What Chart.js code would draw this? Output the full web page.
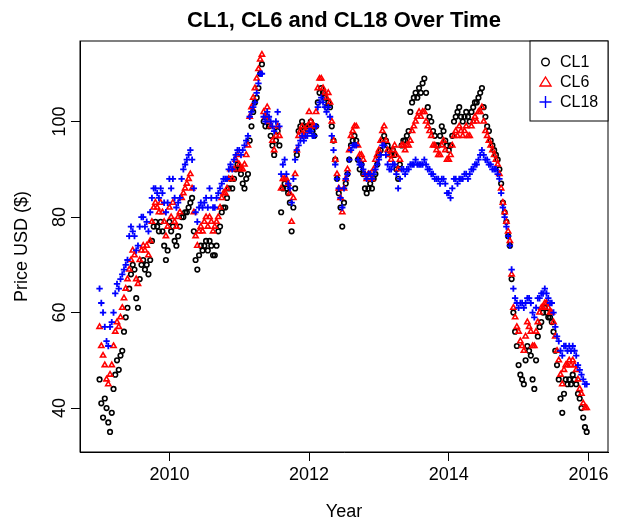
<!DOCTYPE html>
<html>
<head>
<meta charset="utf-8">
<title>CL1, CL6 and CL18 Over Time</title>
<script src="https://cdn.jsdelivr.net/npm/chart.js@4.4.1/dist/chart.umd.min.js"></script>
<style>
  html, body { margin: 0; padding: 0; background: #fff; }
  #wrap { width: 632px; height: 526px; }
</style>
</head>
<body>
<div id="wrap"><canvas id="chart" width="632" height="526"></canvas></div>
<script>
// Samples every 0.025 yr (about 9 days), starting at the first trading days of 2009
const firstYear = 2009;
const stepYears = 0.025;

// Front month contract (one row per year, 40 samples each)
const cl1 = [
  46, 41, 38, 42, 40, 37, 35, 39, 44, 47, 50, 48, 51, 52, 56, 59, 61, 65, 68, 70, 69, 63, 61, 67, 70, 71, 69, 70, 68, 71, 75, 78, 79, 78, 77, 79, 77, 74, 71, 73,
  79, 77, 78, 75, 74, 76, 78, 80, 80, 81, 81, 82, 83, 84, 77, 71, 69, 72, 74, 73, 74, 75, 73, 75, 74, 72, 72, 74, 77, 78, 81, 82, 82, 84, 86, 88, 86, 88, 90, 91,
  90, 89, 87, 86, 88, 89, 96, 99, 102, 104, 105, 107, 110, 112, 100, 99, 101, 99, 97, 95, 93, 96, 98, 95, 81, 86, 87, 86, 85, 83, 77, 82, 86, 93, 98, 99, 100, 98, 99, 99,
  99, 100, 98, 97, 99, 104, 106, 107, 106, 105, 103, 104, 103, 99, 96, 92, 88, 85, 82, 78, 83, 87, 89, 92, 95, 96, 97, 96, 92, 90, 91, 89, 86, 85, 86, 87, 86, 88, 89, 91,
  93, 94, 96, 97, 96, 95, 94, 93, 94, 93, 90, 88, 91, 95, 96, 96, 97, 98, 102, 104, 105, 106, 105, 107, 106, 108, 109, 106, 103, 101, 100, 98, 97, 95, 95, 97, 99, 98, 96, 95,
  94, 95, 97, 100, 101, 102, 103, 101, 100, 101, 102, 101, 100, 102, 103, 104, 104, 105, 106, 107, 103, 101, 99, 98, 96, 95, 94, 93, 92, 90, 87, 83, 81, 79, 76, 74, 67, 60, 56, 53,
  49, 47, 46, 45, 50, 53, 52, 51, 46, 44, 50, 55, 57, 58, 60, 61, 60, 59, 59, 58, 56, 52, 49, 46, 42, 39, 43, 46, 45, 46, 45, 47, 46, 45, 43, 42, 40, 38, 36, 35
];

// Sixth month contract
const cl6 = [
  57, 53, 51, 49, 46, 45, 47, 49, 53, 56, 58, 57, 59, 61, 63, 65, 67, 69, 71, 73, 72, 67, 66, 71, 73, 74, 73, 74, 72, 75, 79, 82, 83, 82, 81, 83, 81, 79, 76, 78,
  82, 80, 83, 79, 78, 80, 81, 84, 85, 86, 87, 88, 89, 86, 81, 76, 74, 77, 78, 77, 79, 80, 78, 80, 79, 77, 78, 79, 80, 82, 84, 85, 85, 86, 88, 90, 88, 90, 92, 93,
  91, 90, 90, 91, 93, 95, 101, 103, 105, 107, 109, 111, 113, 114, 102, 101, 103, 100, 99, 96, 94, 97, 99, 97, 86, 88, 88, 88, 87, 85, 79, 84, 89, 94, 97, 98, 99, 97, 98, 99,
  102, 100, 99, 99, 102, 107, 109, 109, 107, 106, 105, 106, 104, 100, 96, 92, 89, 86, 84, 81, 86, 88, 90, 94, 97, 98, 99, 99, 95, 93, 93, 92, 89, 88, 89, 89, 88, 90, 92, 93,
  94, 96, 98, 99, 96, 94, 93, 92, 94, 95, 93, 90, 92, 95, 95, 94, 95, 95, 96, 98, 99, 100, 101, 102, 101, 102, 102, 100, 99, 98, 97, 95, 95, 94, 93, 93, 95, 96, 94, 92,
  92, 93, 95, 97, 98, 97, 99, 98, 97, 98, 99, 97, 97, 99, 100, 101, 100, 102, 102, 103, 100, 98, 97, 96, 95, 94, 93, 92, 91, 89, 86, 83, 81, 79, 77, 75, 68, 61, 59, 57,
  56, 54, 53, 52, 55, 58, 57, 56, 53, 53, 56, 58, 60, 61, 61, 62, 62, 61, 60, 60, 58, 55, 52, 50, 47, 45, 48, 49, 49, 50, 49, 50, 49, 48, 46, 44, 43, 41, 40, 40
];

// Eighteenth month contract
const cl18 = [
  65, 62, 60, 57, 54, 53, 57, 58, 60, 64, 66, 65, 67, 68, 69, 70, 71, 76, 78, 77, 76, 73, 74, 78, 80, 80, 78, 79, 77, 81, 84, 86, 86, 85, 84, 86, 85, 83, 81, 83,
  88, 86, 88, 84, 82, 83, 84, 88, 90, 91, 92, 93, 94, 92, 86, 81, 79, 82, 83, 82, 83, 84, 82, 86, 84, 82, 82, 84, 85, 86, 87, 88, 88, 88, 90, 91, 90, 92, 93, 94,
  94, 93, 94, 95, 96, 97, 101, 102, 103, 104, 106, 108, 110, 110, 101, 100, 102, 101, 100, 99, 98, 100, 102, 99, 89, 91, 92, 89, 87, 86, 83, 88, 92, 94, 95, 96, 97, 96, 97, 97,
  98, 98, 97, 97, 99, 103, 104, 105, 104, 103, 102, 103, 101, 97, 94, 91, 88, 86, 84, 82, 86, 88, 89, 92, 94, 95, 95, 95, 92, 91, 91, 90, 89, 88, 89, 89, 88, 89, 90, 91,
  92, 93, 95, 95, 93, 91, 90, 90, 91, 91, 89, 86, 88, 90, 90, 89, 90, 90, 91, 91, 91, 92, 91, 91, 91, 91, 92, 91, 90, 90, 89, 89, 88, 88, 88, 87, 88, 88, 87, 85,
  85, 84, 86, 88, 88, 87, 88, 88, 88, 89, 89, 88, 89, 90, 90, 91, 91, 92, 93, 94, 93, 92, 92, 91, 91, 90, 90, 90, 89, 88, 85, 82, 80, 78, 76, 74, 69, 65, 63, 62,
  61, 62, 62, 61, 62, 63, 63, 62, 60, 59, 61, 63, 63, 64, 64, 65, 64, 63, 62, 62, 60, 57, 55, 54, 52, 51, 53, 53, 52, 53, 52, 53, 52, 51, 49, 48, 47, 46, 45, 45
];

const yearTicks = [2010, 2012, 2014, 2016];
const priceTicks = [40, 60, 80, 100];
const seriesNames = ['CL1', 'CL6', 'CL18'];

const FONT = '"Liberation Sans", Arial, Helvetica, sans-serif';

function toPoints(values) {
  return values.map((v, i) => ({ x: firstYear + i * stepYears, y: v }));
}

// R-style extras: box round the plot, vertical y labels, title and legend
const rStyle = {
  id: 'rStyle',
  afterDraw(chart) {
    const { ctx, chartArea: a, scales } = chart;
    ctx.save();
    ctx.strokeStyle = '#000';
    ctx.lineWidth = 1;
    ctx.strokeRect(a.left, a.top, a.right - a.left, a.bottom - a.top);

    ctx.fillStyle = '#000';
    ctx.font = '18px ' + FONT;
    ctx.textAlign = 'center';
    ctx.textBaseline = 'middle';
    priceTicks.forEach(v => {
      const y = scales.y.getPixelForValue(v);
      ctx.save();
      ctx.translate(60, y);
      ctx.rotate(-Math.PI / 2);
      ctx.fillText(String(v), 0, 0);
      ctx.restore();
    });

    ctx.font = 'bold 22px ' + FONT;
    ctx.fillText('CL1, CL6 and CL18 Over Time', (a.left + a.right) / 2, 21);

    // legend box in the top right corner
    const bx = 530, by = a.top, bw = a.right - 530, bh = 80;
    ctx.fillStyle = '#fff';
    ctx.fillRect(bx, by, bw, bh);
    ctx.strokeRect(bx, by, bw, bh);
    ctx.font = '16px ' + FONT;
    ctx.textAlign = 'left';
    const sx = 545.5;
    seriesNames.forEach((name, i) => {
      const y = by + 21 + i * 20;
      ctx.lineWidth = 1.4;
      if (i === 0) {
        ctx.strokeStyle = '#000';
        ctx.beginPath();
        ctx.arc(sx, y, 3.8, 0, Math.PI * 2);
        ctx.stroke();
      } else if (i === 1) {
        ctx.strokeStyle = '#ff0000';
        ctx.beginPath();
        ctx.moveTo(sx, y - 5);
        ctx.lineTo(sx + 5.5, y + 4);
        ctx.lineTo(sx - 5.5, y + 4);
        ctx.closePath();
        ctx.stroke();
      } else {
        ctx.strokeStyle = '#0000ff';
        ctx.beginPath();
        ctx.moveTo(sx - 6, y);
        ctx.lineTo(sx + 6, y);
        ctx.moveTo(sx, y - 6);
        ctx.lineTo(sx, y + 6);
        ctx.stroke();
      }
      ctx.fillStyle = '#000';
      ctx.fillText(name, 560, y + 1);
    });
    ctx.restore();
  }
};

new Chart(document.getElementById('chart'), {
  type: 'scatter',
  data: {
    datasets: [
      {
        label: seriesNames[0],
        data: toPoints(cl1),
        pointStyle: 'circle',
        radius: 2.3,
        borderColor: '#000000',
        backgroundColor: 'rgba(0,0,0,0)',
        borderWidth: 1.6,
        order: 3
      },
      {
        label: seriesNames[1],
        data: toPoints(cl6),
        pointStyle: 'triangle',
        radius: 3,
        borderColor: '#ff0000',
        backgroundColor: 'rgba(0,0,0,0)',
        borderWidth: 1.6,
        order: 2
      },
      {
        label: seriesNames[2],
        data: toPoints(cl18),
        pointStyle: 'cross',
        radius: 3.2,
        borderColor: '#0000ff',
        backgroundColor: 'rgba(0,0,0,0)',
        borderWidth: 1.8,
        order: 1
      }
    ]
  },
  options: {
    responsive: false,
    animation: false,
    devicePixelRatio: 1,
    layout: { padding: { top: 41, right: 24, left: 0, bottom: 0 } },
    plugins: {
      legend: { display: false },
      tooltip: { enabled: false },
      title: { display: false }
    },
    scales: {
      x: {
        type: 'linear',
        min: 2008.72,
        max: 2016.28,
        afterBuildTicks: s => { s.ticks = yearTicks.map(v => ({ value: v })); },
        afterFit: s => { s.height = 74; },
        grid: { display: true, drawOnChartArea: false, drawTicks: true, tickLength: 9, color: '#000', tickColor: '#000' },
        border: { display: true, color: '#000', width: 1 },
        ticks: {
          color: '#000',
          font: { size: 18, family: FONT },
          padding: 3,
          maxRotation: 0,
          autoSkip: false,
          callback: v => String(v)
        },
        title: {
          display: true,
          text: 'Year',
          color: '#000',
          font: { size: 18, family: FONT },
          padding: { top: 0, bottom: 3 }
        }
      },
      y: {
        type: 'linear',
        min: 30.8,
        max: 116.86,
        afterBuildTicks: s => { s.ticks = priceTicks.map(v => ({ value: v })); },
        afterFit: s => { s.width = 80; },
        grid: { display: true, drawOnChartArea: false, drawTicks: true, tickLength: 9, color: '#000', tickColor: '#000' },
        border: { display: true, color: '#000', width: 1 },
        ticks: { display: false },
        title: {
          display: true,
          text: 'Price USD ($)',
          color: '#000',
          font: { size: 18, family: FONT },
          padding: { top: 11, bottom: 0 }
        }
      }
    }
  },
  plugins: [rStyle]
});
</script>
</body>
</html>
